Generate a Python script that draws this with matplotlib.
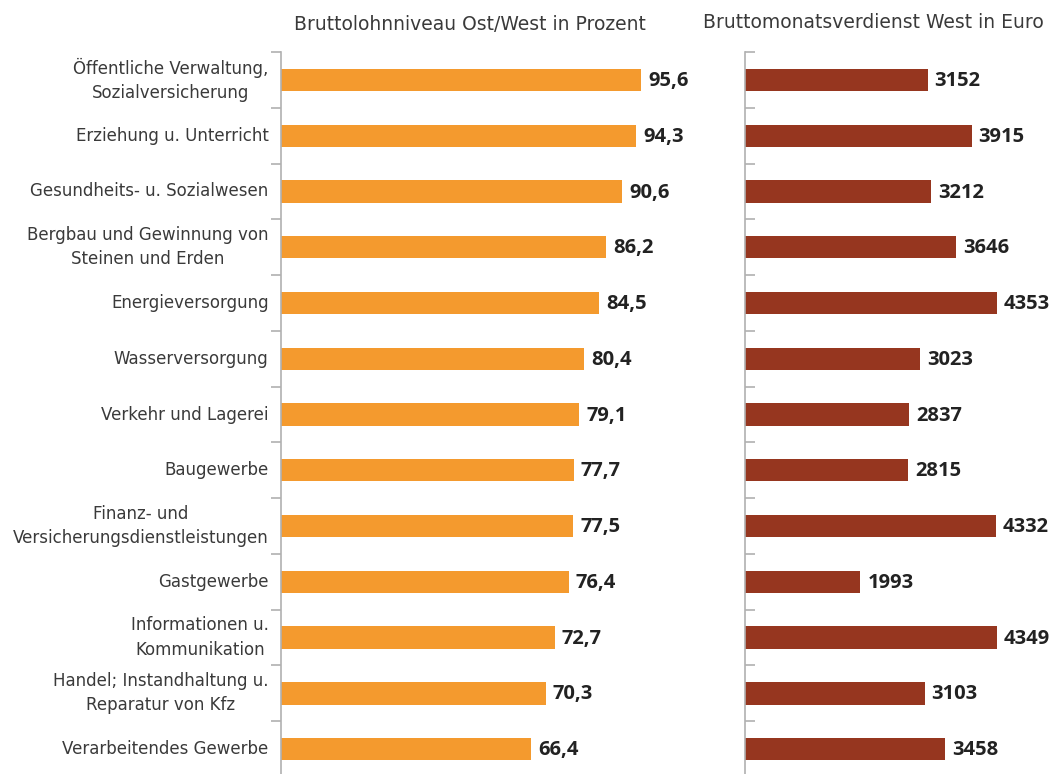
import matplotlib
matplotlib.use("Agg")
import matplotlib.pyplot as plt

categories = [
    "Öffentliche Verwaltung,\nSozialversicherung",
    "Erziehung u. Unterricht",
    "Gesundheits- u. Sozialwesen",
    "Bergbau und Gewinnung von\nSteinen und Erden",
    "Energieversorgung",
    "Wasserversorgung",
    "Verkehr und Lagerei",
    "Baugewerbe",
    "Finanz- und\nVersicherungsdienstleistungen",
    "Gastgewerbe",
    "Informationen u.\nKommunikation",
    "Handel; Instandhaltung u.\nReparatur von Kfz",
    "Verarbeitendes Gewerbe",
]
niveau = [95.6, 94.3, 90.6, 86.2, 84.5, 80.4, 79.1, 77.7, 77.5, 76.4, 72.7, 70.3, 66.4]
verdienst = [3152, 3915, 3212, 3646, 4353, 3023, 2837, 2815, 4332, 1993, 4349, 3103, 3458]

orange = "#F49A2E"
darkred = "#96361F"
textc = "#3a3a3a"
spinec = "#B0B0B0"

W, H = 1054, 774
fig = plt.figure(figsize=(W / 100, H / 100), dpi=100)

top = 1 - 52 / H
bottom = -3 / H
ax1 = fig.add_axes([281 / W, bottom, 440 / W, top - bottom])
ax2 = fig.add_axes([745 / W, bottom, 300 / W, top - bottom])

y = list(range(len(categories)))

ax1.barh(y, niveau, height=0.4, color=orange)
ax1.set_xlim(0, 440 / 3.766)
for yi, v in zip(y, niveau):
    ax1.text(v + 1.9, yi + 0.02, f"{v:.1f}".replace(".", ","), va="center", ha="left",
             fontsize=14.5, fontweight="bold", family="Open Sans", color="#222222")

ax2.barh(y, verdienst, height=0.4, color=darkred)
ax2.set_xlim(0, 300 / 0.0579)
for yi, v in zip(y, verdienst):
    ax2.text(v + 120, yi + 0.02, str(v), va="center", ha="left",
             fontsize=14.5, fontweight="bold", family="Open Sans", color="#222222")

for ax in (ax1, ax2):
    ax.set_ylim(len(categories) - 0.5, -0.5)
    for s in ("top", "right", "bottom"):
        ax.spines[s].set_visible(False)
    ax.spines["left"].set_color(spinec)
    ax.spines["left"].set_linewidth(1.2)
    ax.set_xticks([])
    ax.set_yticks([i - 0.5 for i in range(len(categories) + 1)], minor=False)
    ax.tick_params(axis="y", length=7, color=spinec, width=1.2)
    ax.set_yticklabels([])

ax1.tick_params(axis="y", direction="out")
ax2.tick_params(axis="y", direction="in")

for yi, lab in zip(y, categories):
    ax1.text(-0.028, yi, lab, transform=ax1.get_yaxis_transform(), ha="right", va="center",
             multialignment="center", fontsize=12, color=textc, linespacing=1.45)

fig.text(470 / W, 1 - 24 / H, "Bruttolohnniveau Ost/West in Prozent", ha="center", va="center",
         fontsize=13.5, color=textc)
fig.text(873 / W, 1 - 22 / H, "Bruttomonatsverdienst West in Euro", ha="center", va="center",
         fontsize=13.5, color=textc)

fig.savefig("out.png", dpi=100)
